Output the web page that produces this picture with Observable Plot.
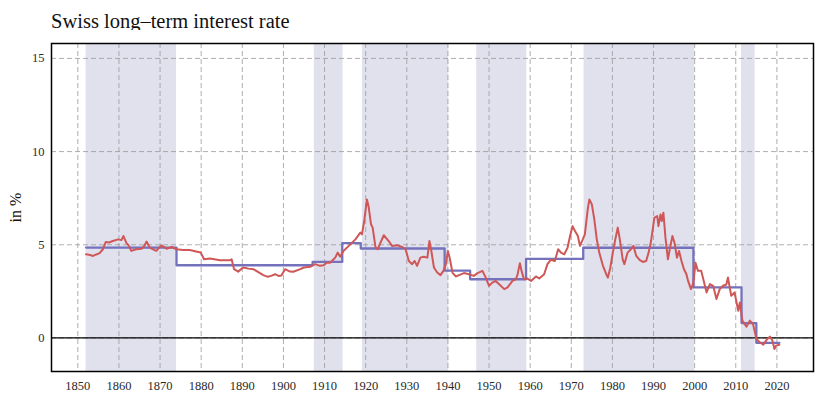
<!DOCTYPE html>
<html>
<head>
<meta charset="utf-8">
<script src="https://cdn.jsdelivr.net/npm/d3@7"></script>
<script src="https://cdn.jsdelivr.net/npm/@observablehq/plot@0.6"></script>
<style>
  html, body { margin: 0; padding: 0; background: #fff; }
  #wrap { position: relative; width: 825px; height: 399px; }
  #title { position: absolute; left: 51px; top: 11px; font-family: "Liberation Serif", serif; font-size: 20.5px; line-height: 21px; color: #111; white-space: nowrap; }
  #chart { position: absolute; left: 0; top: 30px; }
  #chart svg g[aria-label$="tick label"] text { font-size: 12.5px; fill: #2a2a2a; }
  #chart svg g[aria-label="y-axis label"] text { font-size: 16px; fill: #111; }
</style>
</head>
<body>
<div id="wrap">
  <div id="title">Swiss long–term interest rate</div>
  <div id="chart"></div>
</div>
<script>
// Long-term rate
const rateYears = [1852.0,1853.0,1853.7,1854.5,1855.3,1856.1,1856.8,1857.6,1858.5,1859.8,1860.6,1861.1,1861.8,1862.4,1863.0,1864.2,1865.5,1866.2,1866.7,1867.5,1868.3,1869.1,1870.3,1871.6,1872.8,1874.0,1875.6,1877.2,1878.5,1879.3,1879.9,1880.7,1882.1,1884.6,1887.0,1887.4,1888.0,1889.0,1890.2,1891.5,1892.7,1894.0,1895.1,1896.2,1897.0,1898.0,1898.8,1899.5,1900.4,1901.6,1902.4,1904.1,1905.0,1906.5,1907.7,1908.9,1909.8,1910.5,1911.4,1912.2,1912.6,1913.2,1913.8,1914.6,1915.9,1917.5,1918.7,1919.1,1919.7,1920.3,1920.7,1921.3,1921.7,1922.4,1922.9,1923.6,1924.4,1925.6,1926.4,1927.7,1928.9,1929.7,1930.5,1931.3,1931.9,1932.5,1933.3,1934.1,1935.0,1935.5,1935.9,1936.6,1937.4,1938.2,1938.9,1939.5,1940.0,1940.5,1941.1,1941.9,1942.7,1943.9,1945.1,1946.3,1947.2,1948.4,1949.2,1950.0,1950.8,1951.6,1952.4,1953.7,1954.5,1955.7,1956.5,1956.9,1957.5,1957.9,1958.5,1959.3,1960.2,1961.4,1962.2,1963.4,1964.2,1965.0,1966.0,1966.8,1967.5,1968.3,1969.1,1969.7,1970.3,1970.9,1971.6,1972.1,1972.8,1973.3,1974.0,1974.4,1975.0,1975.6,1976.2,1976.8,1977.7,1978.5,1978.9,1979.5,1980.1,1980.7,1981.3,1981.8,1982.5,1982.9,1983.7,1984.5,1985.1,1985.8,1986.6,1987.4,1988.2,1988.8,1989.4,1990.2,1990.9,1991.2,1991.7,1992.0,1992.4,1992.9,1993.5,1994.1,1994.6,1995.1,1995.7,1996.2,1996.8,1997.4,1998.0,1998.4,1999.1,1999.7,2000.2,2000.8,2001.6,2002.0,2002.9,2003.7,2004.5,2005.3,2006.1,2006.9,2007.7,2008.1,2008.9,2009.7,2010.6,2011.0,2011.6,2012.6,2013.4,2014.2,2015.0,2015.8,2016.7,2017.5,2018.3,2018.9,2019.4,2019.8,2020.6];
const rateValues = [4.49,4.45,4.40,4.48,4.55,4.76,5.15,5.12,5.20,5.29,5.25,5.47,5.10,4.95,4.67,4.76,4.79,4.95,5.17,4.85,4.75,4.67,4.97,4.79,4.88,4.76,4.72,4.72,4.65,4.61,4.58,4.22,4.26,4.17,4.17,4.22,3.69,3.56,3.78,3.72,3.69,3.52,3.37,3.28,3.33,3.42,3.33,3.35,3.69,3.56,3.55,3.69,3.78,3.82,3.96,3.87,3.90,4.04,4.04,4.22,4.31,4.58,4.36,4.67,4.94,5.29,5.65,5.56,6.36,7.43,7.07,6.10,5.92,4.85,4.76,5.11,5.51,5.20,4.94,4.97,4.88,4.76,4.13,3.96,4.13,3.87,4.31,4.36,4.31,5.20,4.76,3.78,3.51,3.37,3.60,3.96,4.67,4.22,3.51,3.30,3.37,3.48,3.42,3.33,3.48,3.60,3.24,2.80,2.97,3.06,2.89,2.62,2.71,3.06,3.15,3.37,4.01,3.60,3.15,3.19,3.06,3.30,3.19,3.42,3.96,4.19,4.13,4.76,4.58,4.49,4.85,5.47,6.00,5.74,5.47,4.94,5.29,5.56,6.90,7.43,7.17,6.36,5.29,4.58,3.87,3.42,3.24,3.78,4.58,5.29,5.92,5.29,4.22,3.96,4.58,4.76,4.94,4.40,4.19,4.08,4.13,4.58,5.20,6.45,6.54,6.00,6.63,6.27,6.72,5.38,4.22,4.94,5.47,5.11,4.31,4.67,4.13,3.69,3.42,3.06,2.62,2.97,4.04,3.60,3.60,3.24,2.44,2.89,2.80,2.09,2.62,2.80,2.87,3.24,2.26,2.44,1.46,1.90,0.93,0.60,0.93,0.75,-0.05,-0.23,-0.36,-0.10,0.07,-0.14,-0.59,-0.41,-0.36];

// Regime means (step line)
const regimeStarts = [1852.0,1874.0,1907.1,1914.3,1918.8,1939.2,1945.4,1959.0,1972.9,1999.7,2011.4,2015.0];
const regimeEnds   = [1874.0,1907.1,1914.3,1918.8,1939.2,1945.4,1959.0,1972.9,1999.7,2011.4,2015.0,2020.6];
const regimeMeans  = [4.85,3.90,4.08,5.09,4.80,3.61,3.15,4.24,4.84,2.71,0.80,-0.26];

// Shaded periods
const bandStarts = [1852.0,1907.5,1919.2,1947.0,1973.1,2011.4];
const bandEnds   = [1874.0,1914.5,1940.2,1959.2,2000.0,2014.7];

const xTicks = d3.range(1850, 2021, 10);
const yTicks = [0, 5, 10, 15];

const rate = rateYears.map((y, i) => ({year: y, value: rateValues[i]}));
const steps = [];
regimeStarts.forEach((s, i) => { steps.push({year: s, value: regimeMeans[i]}); });
steps.push({year: regimeEnds[regimeEnds.length - 1], value: regimeMeans[regimeMeans.length - 1]});
const bands = bandStarts.map((s, i) => ({x1: s, x2: bandEnds[i]}));

const grid = {stroke: "#9a9a9a", strokeOpacity: 0.8, strokeDasharray: "5,3", strokeWidth: 1};

const chart = Plot.plot({
  width: 825,
  height: 369,
  marginLeft: 51,
  marginRight: 12,
  marginTop: 13,
  marginBottom: 28,
  style: {fontFamily: "'Liberation Serif', serif", fontSize: "12px", color: "#333", background: "white"},
  x: {domain: [1843.6, 2028.9]},
  y: {domain: [-1.8, 15.8]},
  marks: [
    Plot.rect(bands, {x1: "x1", x2: "x2", fill: "#e1e1ee"}),
    Plot.gridX(xTicks, {...grid}),
    Plot.gridY(yTicks, {...grid}),
    Plot.ruleY([0], {stroke: "black", strokeWidth: 1.3}),
    Plot.line(steps, {x: "year", y: "value", curve: "step-after", stroke: "#7472bd", strokeWidth: 2.3}),
    Plot.line(rate, {x: "year", y: "value", stroke: "#cf5757", strokeWidth: 2}),
    Plot.axisX(xTicks, {tickSize: 0, tickPadding: 10, tickFormat: d => String(d), label: null}),
    Plot.axisY(yTicks, {tickSize: 0, tickPadding: 7, label: "in %", labelAnchor: "center", labelArrow: "none", labelOffset: 42}),
    Plot.frame({stroke: "black", strokeWidth: 1.5})
  ]
});
document.getElementById("chart").appendChild(chart);
</script>
</body>
</html>
